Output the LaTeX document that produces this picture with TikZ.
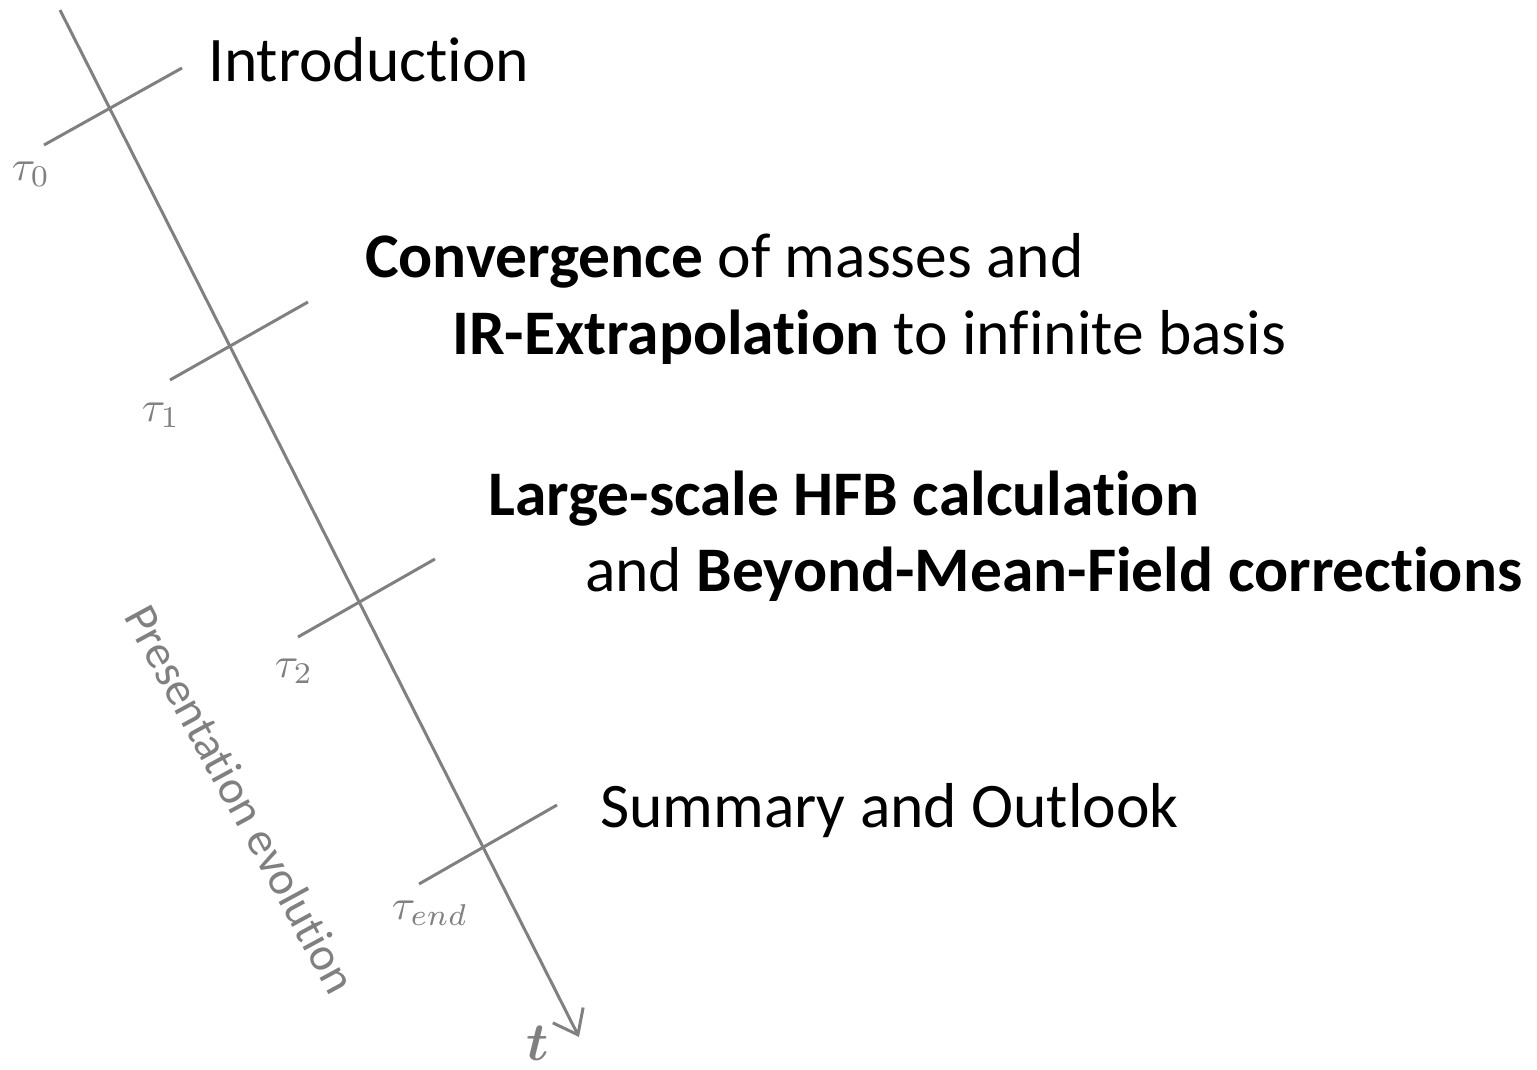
\documentclass[tikz,border=0pt]{standalone}
\usepackage{fontspec}
\setmainfont{Carlito}[Ligatures=NoCommon]
\usepackage{bm}
\usetikzlibrary{arrows.meta}
\definecolor{axisgray}{RGB}{128,128,128}
\begin{document}
\begin{tikzpicture}[x=1pt,y=-1pt,
  axis/.style={draw=axisgray, line width=3pt},
  item/.style={anchor=base west, inner sep=0pt, font=\fontsize{63.5}{75}\selectfont},
  taulabel/.style={text=axisgray, inner sep=0pt, scale=4.3}]
\useasboundingbox (0,0) rectangle (1537,1070);
% main time axis
\coordinate (top) at (60,10);
\coordinate (tip) at (579,1037);
\draw[axis, -{Straight Barb[length=22pt,width=34pt,line width=3pt]}] (top) -- (tip);
% ticks
\coordinate (a0) at (44,145);  \coordinate (b0) at (182,68);
\coordinate (a1) at (170,380); \coordinate (b1) at (308,302);
\coordinate (a2) at (298,637); \coordinate (b2) at (435,559);
\coordinate (a3) at (419,884); \coordinate (b3) at (557,805);
\draw[axis] (a0) -- (b0);
\draw[axis] (a1) -- (b1);
\draw[axis] (a2) -- (b2);
\draw[axis] (a3) -- (b3);
% tick labels
\node[taulabel] (tau0) at (31,174) {$\tau_0$};
\node[taulabel] (tau1) at (161,415) {$\tau_1$};
\node[taulabel] (tau2) at (294,671) {$\tau_2$};
\node[taulabel] (tauend) at (430,913) {$\tau_{end}$};
\node[text=axisgray, inner sep=0pt, scale=5.4] (tlab) at (538,1043) {$\bm{t}$};
% axis caption
\node[rotate=-61.5, text=axisgray, inner sep=0pt, font=\fontsize{47}{56}\selectfont] (pres) at (241,799) {Presentation evolution};
% items
\node[item] (intro) at (208,82) {Introduction};
\node[item] (conv) at (365,277) {\textbf{Convergence} of masses and};
\node[item] (irx) at (452,354) {\textbf{IR-Extrapolation} to infinite basis};
\node[item] (hfb) at (488,515) {\textbf{Large-scale HFB calculation}};
\node[item] (bmf) at (585,591) {and \textbf{Beyond-Mean-Field corrections}};
\node[item] (summ) at (600,827) {Summary and Outlook};
\end{tikzpicture}
\end{document}
